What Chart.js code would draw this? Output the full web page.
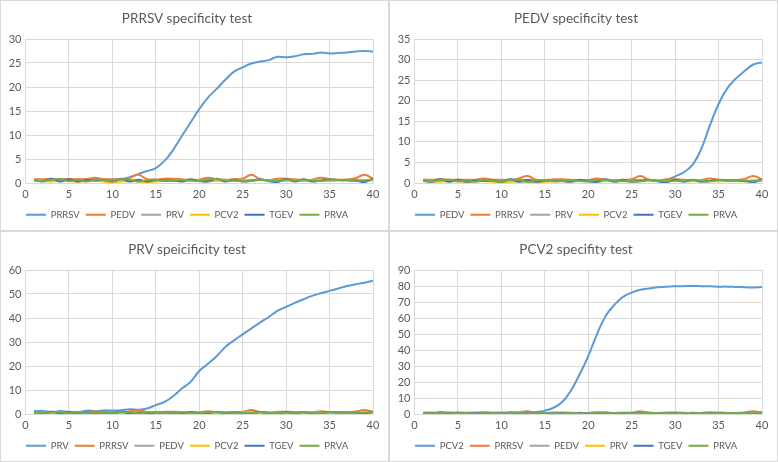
<!DOCTYPE html>
<html>
<head>
<meta charset="utf-8">
<script src="https://cdn.jsdelivr.net/npm/chart.js@4"></script>
<style>
  html, body { margin: 0; padding: 0; background: #ffffff; }
  body { width: 778px; height: 462px; position: relative; overflow: hidden; }
  .panel { position: absolute; width: 387px; height: 229px; border: 1px solid #d9d9d9; background: #fff; }
  canvas { display: block; }
</style>
</head>
<body>
<div class="panel" style="left:0;top:0"><canvas id="c1" width="387" height="229"></canvas></div>
<div class="panel" style="left:389px;top:0"><canvas id="c2" width="387" height="229"></canvas></div>
<div class="panel" style="left:0;top:231px"><canvas id="c3" width="387" height="229"></canvas></div>
<div class="panel" style="left:389px;top:231px"><canvas id="c4" width="387" height="229"></canvas></div>
<script>
// ---- data ----
const cycles = [1,2,3,4,5,6,7,8,9,10,11,12,13,14,15,16,17,18,19,20,21,22,23,24,25,26,27,28,29,30,31,32,33,34,35,36,37,38,39,40];
const xTicks = [0,5,10,15,20,25,30,35,40];

const prrsvPositive = [0.7,0.7,0.8,0.8,0.7,0.7,0.7,0.8,0.7,0.7,0.8,1.2,1.9,2.5,3.1,4.6,6.9,9.8,12.6,15.4,17.8,19.6,21.5,23.2,24.1,24.9,25.3,25.6,26.3,26.2,26.4,26.8,26.9,27.2,27.0,27.1,27.2,27.4,27.5,27.4];
const pedvPositive = [0.7,0.6,0.7,0.7,0.6,0.7,0.7,0.6,0.7,0.7,0.6,0.7,0.7,0.6,0.5,0.5,0.5,0.6,0.7,0.7,0.6,0.7,0.7,0.6,0.7,0.7,0.7,0.6,0.8,1.6,2.6,4.4,8.2,14.0,19.2,23.0,25.4,27.2,28.8,29.3];
const prvPositive = [1.2,1.3,0.8,1.2,0.9,0.8,1.4,1.3,1.5,1.5,1.6,2.0,1.8,2.3,3.7,5.0,7.4,10.6,13.4,17.9,20.9,24.1,27.9,30.7,33.2,35.7,38.1,40.4,43.0,44.6,46.3,47.8,49.2,50.3,51.3,52.3,53.3,54.1,54.7,55.5];
const pcv2Positive = [0.8,0.8,0.9,0.8,0.8,0.7,0.8,0.8,0.8,0.8,0.9,0.9,1.0,1.3,2.1,3.9,7.5,14.6,24.7,36.2,49.8,61.3,68.2,73.2,75.9,77.6,78.5,79.2,79.6,79.8,79.9,80.0,79.9,79.8,79.6,79.6,79.4,79.2,79.0,79.3];

// negative controls (background traces)
const noiseOrange = [0.8,0.8,0.9,0.8,0.8,0.8,0.8,1.1,0.8,0.8,0.7,1.1,1.7,0.8,0.7,0.9,0.9,0.8,0.6,0.7,1.1,0.8,0.7,0.8,0.9,1.7,0.8,0.6,0.9,0.9,0.8,0.6,0.7,1.1,0.8,0.7,0.7,1.0,1.7,0.9];
const noiseGray   = [0.6,0.5,0.5,0.6,0.5,0.4,0.5,0.6,0.5,0.4,0.5,0.6,0.5,0.4,0.5,0.6,0.5,0.5,0.6,0.5,0.4,0.5,0.6,0.5,0.5,0.6,0.6,0.5,0.5,0.6,0.5,0.5,0.6,0.5,0.5,0.6,0.5,0.5,0.6,0.6];
const noiseYellow = [0.5,0.4,0.3,0.5,0.4,0.3,0.4,0.5,0.3,0.2,0.3,0.4,0.3,0.2,0.3,0.4,0.5,0.4,0.5,0.5,0.4,0.5,0.5,0.4,0.5,0.5,0.6,0.5,0.4,0.5,0.5,0.4,0.5,0.5,0.4,0.5,0.5,0.4,0.5,0.5];
const noiseTGEV   = [0.6,0.3,0.9,0.3,0.8,0.3,0.6,0.5,0.6,0.3,0.9,0.3,0.7,0.3,0.6,0.5,0.5,0.3,0.8,0.4,0.3,0.9,0.3,0.7,0.3,0.5,0.8,0.4,0.2,0.8,0.3,0.8,0.3,0.5,0.8,0.6,0.6,0.5,0.2,0.9];
const noisePRVA   = [0.5,0.4,0.7,0.8,0.4,0.6,0.3,0.7,0.6,0.3,0.8,0.7,0.3,0.6,0.7,0.4,0.5,0.6,0.5,0.4,0.7,0.8,0.5,0.5,0.4,0.4,0.7,0.5,0.4,0.6,0.5,0.7,0.5,0.4,0.7,0.6,0.7,0.6,0.5,0.8];

const titles = ["PRRSV specificity test","PEDV specificity test","PRV speicificity test","PCV2 specifity test"];
const legendNames = [
  ["PRRSV","PEDV","PRV","PCV2","TGEV","PRVA"],
  ["PEDV","PRRSV","PRV","PCV2","TGEV","PRVA"],
  ["PRV","PRRSV","PEDV","PCV2","TGEV","PRVA"],
  ["PCV2","PRRSV","PEDV","PRV","TGEV","PRVA"]
];
const positives = [prrsvPositive, pedvPositive, prvPositive, pcv2Positive];
const yMax = [30,35,60,90];
const yStep = [5,5,10,10];

const colors = ["#5B9BD5","#ED7D31","#A5A5A5","#FFC000","#4472C4","#70AD47"];
const FONT = "Lato, 'Open Sans', sans-serif";
const TXT = "#595959";
const GRID = "#d9d9d9";

function toXY(arr){ return arr.map((v,i)=>({x:cycles[i], y:v})); }

function build(id, p){
  const series = [positives[p], noiseOrange, noiseGray, noiseYellow, noiseTGEV, noisePRVA];
  const datasets = series.map((s,k)=>({
    label: legendNames[p][k],
    data: toXY(s),
    borderColor: colors[k],
    backgroundColor: colors[k],
    borderWidth: 2,
    pointRadius: 0,
    tension: 0.4,
    fill: false,
    order: 6 - k
  }));
  new Chart(document.getElementById(id), {
    type: 'line',
    data: { datasets },
    options: {
      responsive: false,
      animation: false,
      devicePixelRatio: 1,
      layout: { padding: { left: 0, right: 15, top: 0, bottom: 0.5 } },
      plugins: {
        title: { display: true, text: titles[p], color: TXT,
          font: { family: FONT, size: 13.5, weight: 'normal' }, padding: { top: 10, bottom: 11.8 } },
        legend: { position: 'bottom',
          labels: {
            color: TXT, font: { family: FONT, size: 9.5 }, boxWidth: 20, boxHeight: 2, padding: 6,
            generateLabels: (chart) => chart.data.datasets.map((d,i)=>({
              text: d.label, fillStyle: d.borderColor, strokeStyle: d.borderColor,
              lineWidth: 0, hidden: false, datasetIndex: i, fontColor: TXT
            }))
          }
        },
        tooltip: { enabled: false }
      },
      scales: {
        x: { type: 'linear', min: 0, max: 40,
          afterBuildTicks: (s) => { s.ticks = xTicks.map(v=>({value:v})); },
          afterFit: (s) => { s.height = 21; },
          grid: { color: GRID, drawTicks: false },
          border: { color: GRID },
          ticks: { color: TXT, font: { family: FONT, size: 11 }, padding: 5, maxRotation: 0, autoSkip: false } },
        y: { min: 0, max: yMax[p],
          ticks: { stepSize: yStep[p], color: TXT, font: { family: FONT, size: 11 }, padding: 4, autoSkip: false },
          afterFit: (s) => { s.width = 24.5; },
          grid: { color: GRID, drawTicks: false },
          border: { display: false } }
      }
    }
  });
}
build('c1',0); build('c2',1); build('c3',2); build('c4',3);
</script>
</body>
</html>
